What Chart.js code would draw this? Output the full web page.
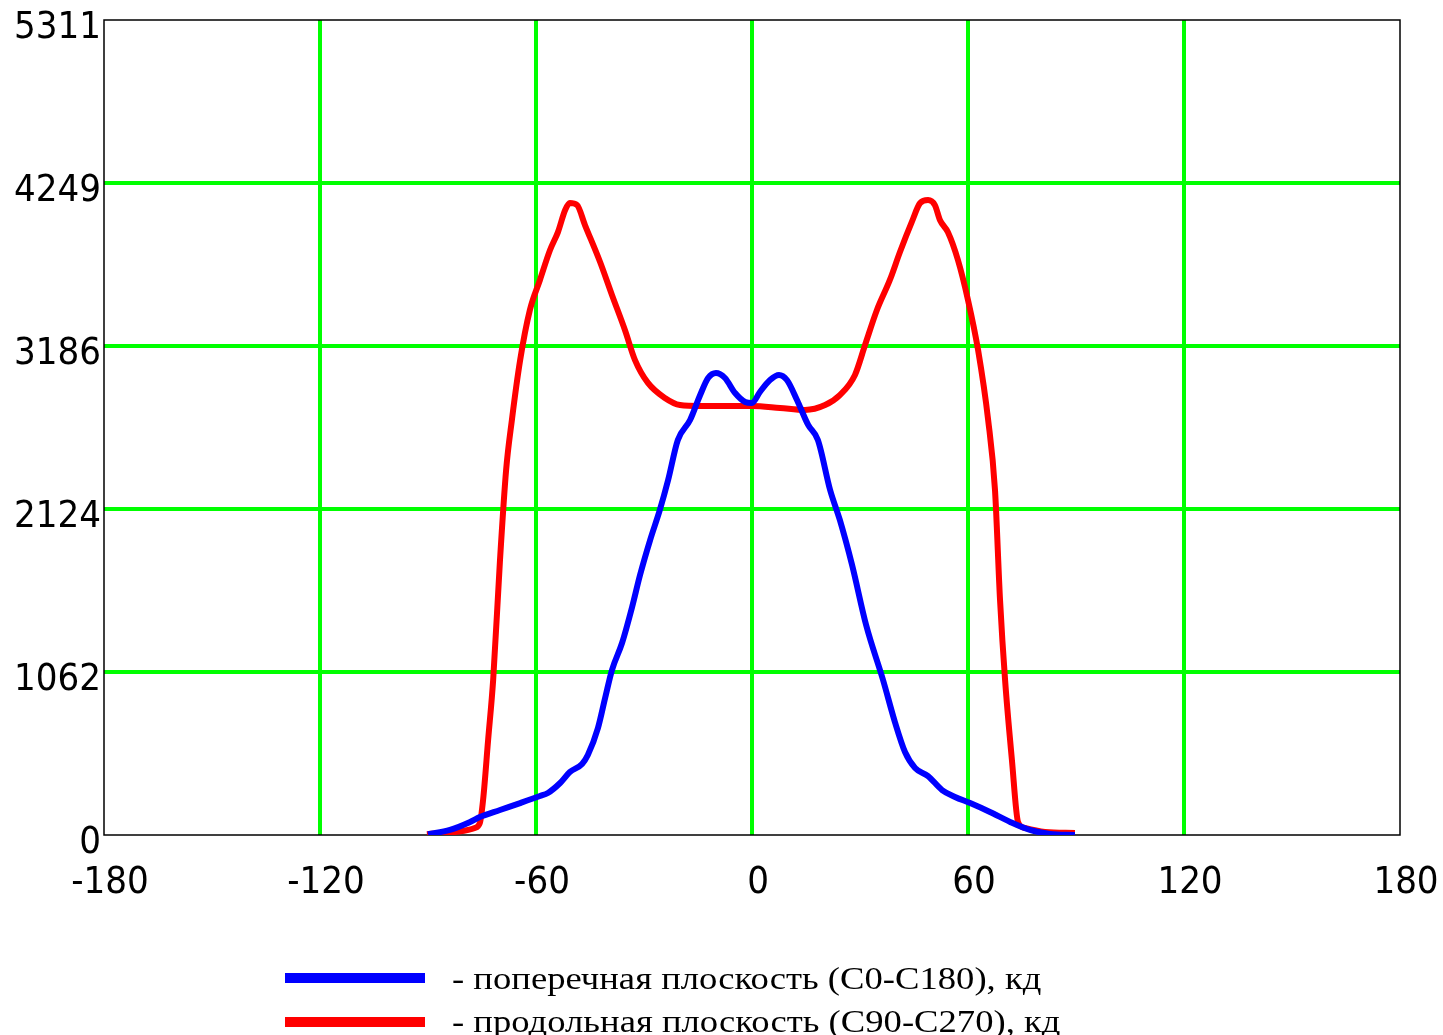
<!DOCTYPE html>
<html><head><meta charset="utf-8">
<script src="https://cdn.jsdelivr.net/npm/chart.js@4.4.1/dist/chart.umd.min.js"></script>
<style>
html,body{margin:0;padding:0;background:#fff;width:1443px;height:1035px;overflow:hidden;}
#wrap{position:relative;width:1443px;height:1035px;}
canvas{position:absolute;left:0;top:0;}
.sw{position:absolute;left:285px;width:140px;height:10px;}
.tx{position:absolute;left:452px;font-family:'Liberation Serif','Times New Roman',serif;font-size:32px;white-space:nowrap;color:#000;line-height:36px;transform:scaleX(1.145);transform-origin:0 0;}
</style></head>
<body><div id="wrap"><canvas id="c" width="1443" height="1035" style="width:1443px;height:1035px"></canvas><div id="legend"></div></div>
<script>
const seriesNames = ['- поперечная плоскость (C0-C180), кд', '- продольная плоскость (C90-C270), кд'];
const seriesColors = ['#0000ff', '#ff0000'];

const blueAngles = [-90,-83.9,-78.3,-75.6,-70,-64.4,-58.9,-56.7,-53.3,-50.6,-47.2,-45.6,-42.8,-40.8,-38.9,-36.1,-33.3,-31.1,-28.3,-25.6,-23.3,-20.6,-17.2,-14.4,-12.2,-10,-7.5,-4.7,-1.9,0,2.2,5,7.5,9.7,12.5,15.6,18.3,21.7,24.4,27.8,31.7,36.4,39.7,42.5,45.3,48.9,52.8,56.4,60.6,66.1,71.7,77.2,82.8,89.7];
const blueValues = [5,33,85,117,163,208,254,274,339,410,463,521,697,893,1075,1251,1486,1694,1922,2118,2313,2574,2704,2867,2978,3011,2978,2880,2822,2815,2887,2965,2998,2965,2835,2672,2574,2248,2053,1759,1368,1010,736,541,437,384,293,248,208,150,85,33,7,0];

const redAngles = [-90.3,-82.5,-77,-75.6,-74.7,-73.3,-71.9,-70,-68.3,-66.7,-64.4,-61.7,-58.9,-56.1,-53.9,-51.9,-50.6,-48.6,-46.4,-42.2,-38.9,-35.3,-32.5,-28.9,-24.2,-20,-14.4,-6.1,0,7.8,14.7,20.3,24.4,28.6,31.4,34.7,38.3,41.1,44.4,46.7,48.9,50.8,52.2,54.4,57.2,60,62.8,65.6,67.5,68.9,70.3,72.2,73.9,75.8,81.4,89.7];
const redValues = [5,20,46,78,228,619,1010,1792,2379,2704,3095,3421,3617,3812,3929,4073,4118,4105,3975,3734,3519,3291,3095,2946,2848,2802,2796,2796,2796,2783,2770,2802,2867,2998,3193,3421,3617,3799,3995,4118,4138,4105,4008,3929,3747,3486,3160,2704,2248,1531,1010,489,85,46,20,13];

const xTickValues = [-180,-120,-60,0,60,120,180];
const yTickValues = [0,1062.2,2124.4,3186.6,4248.8,5311];
const yTickLabels = ['0','1062','2124','3186','4249','5311'];

function pts(xs, ys){ return xs.map((x,i)=>({x:x, y:ys[i]})); }

// legend (HTML text)
const leg = document.getElementById('legend');
const swatchTops = [973, 1017];
const textTops = [960, 1003];
seriesNames.forEach((name,i)=>{
  const sw = document.createElement('div');
  sw.className='sw'; sw.style.top = swatchTops[i]+'px'; sw.style.background = seriesColors[i];
  leg.appendChild(sw);
  const tx = document.createElement('div');
  tx.className='tx'; tx.style.top = textTops[i]+'px'; tx.textContent = name;
  leg.appendChild(tx);
});

const borderPlugin = {
  id:'borderPlugin',
  beforeDatasetsDraw(chart){
    const a = chart.chartArea, c = chart.ctx;
    c.save(); c.strokeStyle='#000'; c.lineWidth=1.5;
    c.strokeRect(a.left, a.top, a.right-a.left, a.bottom-a.top);
    c.restore();
  }
};

const tickFont = {family:"'DejaVu Sans Condensed','DejaVu Sans',sans-serif", size:38};

new Chart(document.getElementById('c'), {
  type:'line',
  data:{datasets:[
    {data:pts(blueAngles, blueValues), borderColor:seriesColors[0], borderWidth:6, pointRadius:0, cubicInterpolationMode:'monotone', fill:false},
    {data:pts(redAngles, redValues), borderColor:seriesColors[1], borderWidth:6, pointRadius:0, cubicInterpolationMode:'monotone', fill:false}
  ]},
  options:{
    responsive:false, animation:false,
    layout:{padding:{left:0, right:43, top:20, bottom:120}},
    plugins:{legend:{display:false}, tooltip:{enabled:false}},
    scales:{
      x:{type:'linear', min:-180, max:180,
        afterBuildTicks(s){ s.ticks = xTickValues.map(v=>({value:v})); },
        afterFit(s){ s.height = 80; s.paddingLeft = 0; s.paddingRight = 0; },
        grid:{drawTicks:false, lineWidth:4, color:(ctx)=> (ctx.tick && (ctx.tick.value===-180||ctx.tick.value===180)) ? 'rgba(0,0,0,0)' : '#00ff00'},
        border:{display:false},
        ticks:{autoSkip:false, maxRotation:0, color:'#000', font:tickFont, padding:25, labelOffset:6, callback:(v)=>String(v)}
      },
      y:{type:'linear', min:0, max:5311,
        afterBuildTicks(s){ s.ticks = yTickValues.map(v=>({value:v})); },
        afterFit(s){ s.width = 104; s.paddingTop = 0; s.paddingBottom = 0; },
        grid:{drawTicks:false, lineWidth:4, color:(ctx)=> (ctx.tick && (ctx.tick.value===0||ctx.tick.value===5311)) ? 'rgba(0,0,0,0)' : '#00ff00'},
        border:{display:false},
        ticks:{autoSkip:false, color:'#000', font:tickFont, padding:3, labelOffset:8,
          callback:(v,i)=> yTickLabels[i]}
      }
    }
  },
  plugins:[borderPlugin]
});
</script>
</body></html>
